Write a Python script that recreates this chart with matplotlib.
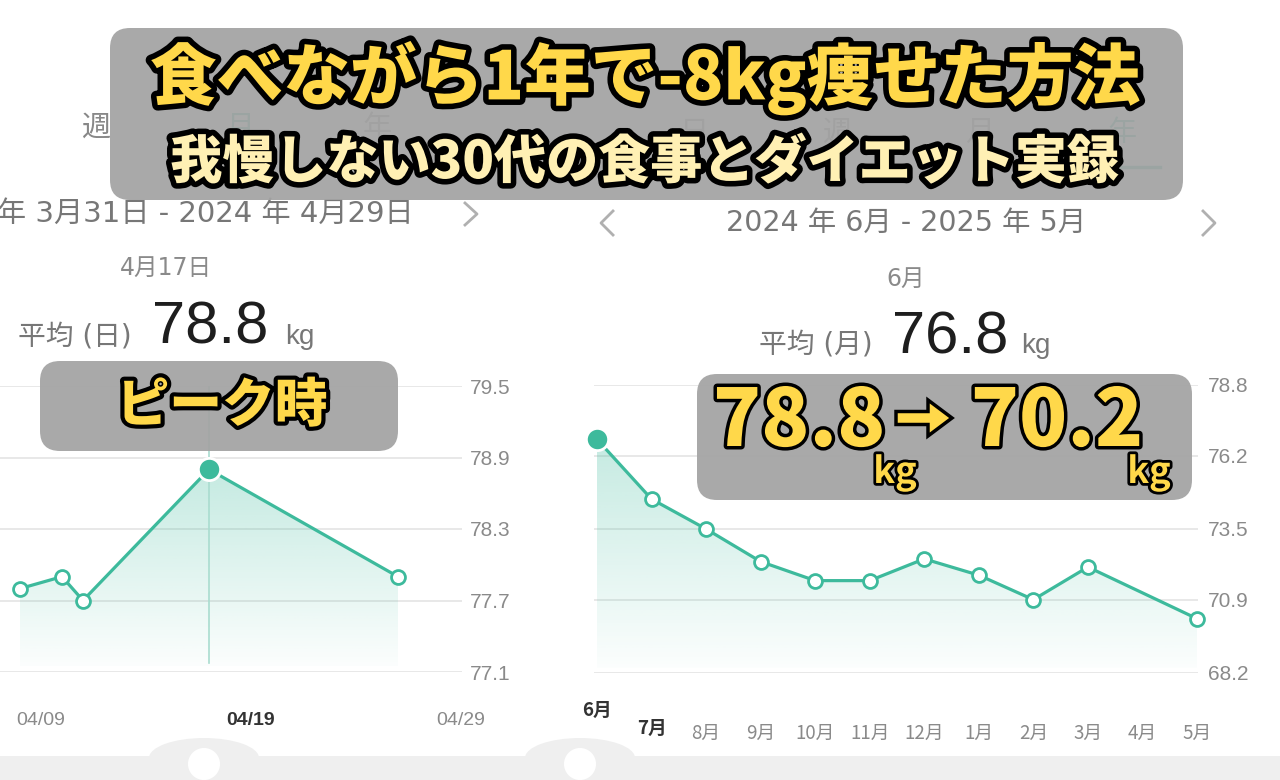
import numpy as np
import matplotlib.pyplot as plt
import matplotlib.colors as mcolors
import matplotlib.patheffects as pe
import matplotlib.transforms as mtransforms
from matplotlib.patches import FancyBboxPatch, Rectangle, Ellipse, Circle, FancyArrow

plt.rcParams['font.family'] = ['Noto Sans CJK JP', 'DejaVu Sans']

W, H = 1280, 780
TEAL = '#3dba9c'
YELLOW = '#ffd84a'
CREAM = '#fff0b4'
APP_FONT = ['DejaVu Sans', 'Noto Sans CJK JP']

# left screen: daily weight, April 2024
april_days = [8, 10, 11, 17, 26]
april_weight = [77.8, 77.9, 77.7, 78.8, 77.9]
april_ticks = [9, 19, 29]
april_tick_labels = ['04/09', '04/19', '04/29']
april_yticks = [77.1, 77.7, 78.3, 78.9, 79.5]
peak_day = 17

# right screen: monthly average, Jun 2024 - May 2025 (no entry for April)
months = ['6月', '7月', '8月', '9月', '10月', '11月', '12月', '1月', '2月', '3月', '4月', '5月']
month_weight = [76.8, 74.6, 73.5, 72.3, 71.6, 71.6, 72.4, 71.8, 70.9, 72.1, np.nan, 70.2]
month_yticks = [68.2, 70.9, 73.5, 76.2, 78.8]

title1 = '食べながら1年で-8kg痩せた方法'
title2 = '我慢しない30代の食事とダイエット実録'


def px_rect(x0, y0, x1, y1):
    return [x0 / W, 1 - y1 / H, (x1 - x0) / W, (y1 - y0) / H]


def gradient_fill(ax, x, y, base, color):
    poly = ax.fill_between(x, y, base, facecolor='none', edgecolor='none')
    rgba = np.zeros((100, 1, 4))
    rgba[..., :3] = mcolors.to_rgb(color)
    rgba[:, 0, 3] = np.linspace(0.02, 0.30, 100)
    im = ax.imshow(rgba, extent=[min(x), max(x), base, max(y)],
                   aspect='auto', origin='lower', zorder=1)
    im.set_clip_path(poly.get_paths()[0], transform=ax.transData)


def style_chart(ax, yticks, pad):
    ax.set_facecolor('none')
    for s in ax.spines.values():
        s.set_visible(False)
    ax.yaxis.tick_right()
    ax.set_yticks(yticks)
    ax.set_yticklabels([f'{v:.1f}' for v in yticks], family='Liberation Sans',
                       fontsize=15, color='#8a8a8a')
    ax.tick_params(axis='y', length=0, pad=pad)
    ax.grid(axis='y', color='#e6e6e6', lw=1.3)
    ax.set_axisbelow(True)


fig = plt.figure(figsize=(12.8, 7.8), dpi=100, facecolor='white')

# ---- background layer: app texts ----
bg = fig.add_axes([0, 0, 1, 1], zorder=0)
bg.set_xlim(0, W)
bg.set_ylim(H, 0)
bg.axis('off')

bg.add_patch(Rectangle((0, 756), W, 30, fc='#efefef', ec='none'))
for cx in [204, 580]:
    bg.add_patch(Ellipse((cx, 758), 110, 40, fc='#efefef', ec='none'))
    bg.add_patch(Circle((cx, 764), 16, fc='white', ec='none'))

for x, t, c in [(96, '週', '#888888'), (240, '月', TEAL), (377, '年', '#888888'),
                (694, '日', '#888888'), (837, '週', '#888888'), (980, '月', '#888888'),
                (1122, '年', TEAL)]:
    bg.text(x, 128 if x < 600 else 133, t, fontsize=21, color=c, ha='center', va='center')
bg.plot([1102, 1160], [167, 167], color=TEAL, lw=2.5)

bg.text(-3, 214, '年 3月31日 - 2024 年 4月29日', fontsize=21, color='#777777',
        family=APP_FONT, ha='left', va='center')
bg.plot([465, 477, 465], [203, 214, 225], color='#b0b0b0', lw=2)
bg.text(906, 223, '2024 年 6月 - 2025 年 5月', fontsize=20.5, color='#777777',
        family=APP_FONT, ha='center', va='center')
bg.plot([613, 601, 613], [211, 223, 235], color='#b0b0b0', lw=2)
bg.plot([1203, 1215, 1203], [211, 223, 235], color='#b0b0b0', lw=2)

bg.text(166, 268, '4月17日', fontsize=17, color='#8a8a8a', family=APP_FONT,
        ha='center', va='center')
bg.text(906, 279, '6月', fontsize=17, color='#8a8a8a', family=APP_FONT,
        ha='center', va='center')

bg.text(18, 344, '平均 (日)', fontsize=20, color='#777777', family=APP_FONT,
        ha='left', va='baseline')
bg.text(152, 344, '78.8', fontsize=43, color='#1e1e1e', family='Liberation Sans',
        ha='left', va='baseline')
bg.text(285, 344, 'kg', fontsize=20, color='#777777', family='Liberation Sans',
        ha='left', va='baseline')
bg.text(759, 353, '平均 (月)', fontsize=20, color='#777777', family=APP_FONT,
        ha='left', va='baseline')
bg.text(892, 353, '76.8', fontsize=43, color='#1e1e1e', family='Liberation Sans',
        ha='left', va='baseline')
bg.text(1021, 353, 'kg', fontsize=20, color='#777777', family='Liberation Sans',
        ha='left', va='baseline')

# ---- left chart ----
axl = fig.add_axes(px_rect(0, 386, 462, 672), zorder=1)
style_chart(axl, april_yticks, 6)
gradient_fill(axl, april_days, april_weight, 77.15, TEAL)
axl.axvline(peak_day, ymin=0.03, ymax=1, color='#a9dccf', lw=1.2, zorder=1.5)
axl.plot(april_days, april_weight, color=TEAL, lw=2.3, zorder=2)
open_days = [d for d in april_days if d != peak_day]
open_w = [w for d, w in zip(april_days, april_weight) if d != peak_day]
axl.plot(open_days, open_w, 'o', ms=10, mfc='white', mec=TEAL, mew=2, zorder=3, clip_on=False)
axl.plot([peak_day], [max(april_weight)], 'o', ms=16, mfc=TEAL, mec='white', mew=2,
         zorder=4, clip_on=False)
axl.set_xlim(17 - 209 / 21, 17 + 253 / 21)
axl.set_ylim(77.1, 79.5)
axl.set_xticks(april_ticks, april_tick_labels, family='Liberation Sans', fontsize=14,
               color='#8a8a8a')
axl.tick_params(axis='x', length=0, pad=29)
bold_lab = axl.get_xticklabels()[1]
bold_lab.set_fontweight('bold')
bold_lab.set_color('#333333')

# ---- right chart ----
axr = fig.add_axes(px_rect(594, 385, 1198, 673), zorder=1)
style_chart(axr, month_yticks, 7)
idx = np.arange(len(months))
mw = np.array(month_weight)
ok = ~np.isnan(mw)
gradient_fill(axr, idx[ok], mw[ok], 68.4, TEAL)
axr.plot(idx[ok], mw[ok], color=TEAL, lw=2.3, zorder=2)
axr.plot(idx[ok][1:], mw[ok][1:], 'o', ms=10, mfc='white', mec=TEAL, mew=2, zorder=3,
         clip_on=False)
axr.plot(idx[:1], mw[:1], 'o', ms=16, mfc=TEAL, mec='white', mew=2, zorder=4, clip_on=False)
axr.set_xlim(-3 / 54.55, 11 + 1 / 54.55)
axr.set_ylim(68.2, 78.8)
axr.set_xticks([])
for i, m in enumerate(months):
    drop = 37 if i == 0 else (55 if i == 1 else 60)
    tr = axr.get_xaxis_transform() + mtransforms.ScaledTranslation(0, -drop / 100,
                                                                     fig.dpi_scale_trans)
    axr.text(i, 0, m, transform=tr, ha='center', va='center', fontsize=13.5,
             color='#333333' if i < 2 else '#8a8a8a',
             fontweight='bold' if i < 2 else 'normal')

# ---- overlay: title and callouts ----
ov = fig.add_axes([0, 0, 1, 1], zorder=2)
ov.set_facecolor('none')
ov.set_xlim(0, W)
ov.set_ylim(H, 0)
ov.axis('off')

box_kw = dict(boxstyle='round,pad=0,rounding_size=20', fc='#a3a3a3', ec='none', alpha=0.93)
ov.add_patch(FancyBboxPatch((110, 28), 1073, 172, **box_kw))
ov.add_patch(FancyBboxPatch((40, 361), 358, 90, **box_kw))
ov.add_patch(FancyBboxPatch((697, 374), 495, 126, **box_kw))

outline = [pe.Stroke(linewidth=8, foreground='black'), pe.Normal()]
ov.text(645, 78, title1, fontsize=48, fontweight='heavy', color=YELLOW,
        ha='center', va='center', path_effects=outline)
ov.text(645, 163, title2, fontsize=37.5, fontweight='heavy', color=CREAM,
        ha='center', va='center', path_effects=outline)
ov.text(222, 406, 'ピーク時', fontsize=38, fontweight='heavy', color=YELLOW,
        ha='center', va='center',
        path_effects=[pe.Stroke(linewidth=6, foreground='black'), pe.Normal()])

num_fx = [pe.Stroke(linewidth=5, foreground='black'), pe.Normal()]
ov.text(799, 446, '78.8', fontsize=57, fontweight='heavy', color=YELLOW,
        ha='center', va='baseline', path_effects=num_fx)
ov.text(1057, 446, '70.2', fontsize=57, fontweight='heavy', color=YELLOW,
        ha='center', va='baseline', path_effects=num_fx)
ov.add_patch(FancyArrow(896, 418, 56, 0, width=13, head_width=36, head_length=24,
                        length_includes_head=True, fc=YELLOW, ec='black', lw=2.5))
kg_fx = [pe.Stroke(linewidth=4, foreground='black'), pe.Normal()]
ov.text(895, 483, 'kg', fontsize=26, fontweight='bold', color=YELLOW,
        ha='center', va='baseline', path_effects=kg_fx)
ov.text(1149, 483, 'kg', fontsize=26, fontweight='bold', color=YELLOW,
        ha='center', va='baseline', path_effects=kg_fx)

fig.savefig('out.png', dpi=100, facecolor='white')
